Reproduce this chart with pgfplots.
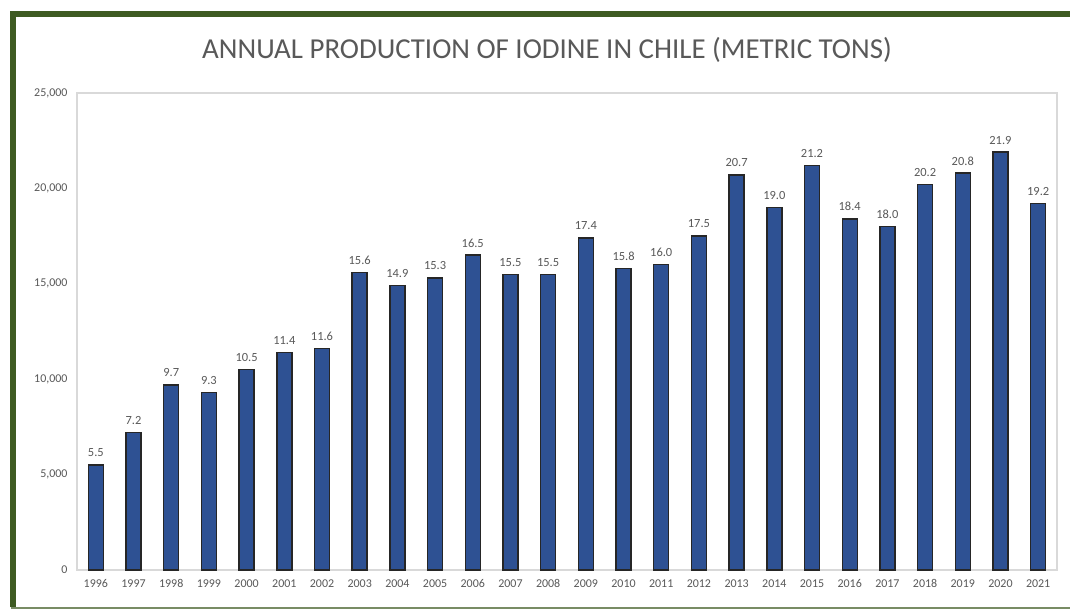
\documentclass[border=0pt]{standalone}
\usepackage{fontspec}
\setmainfont{Carlito}
\usepackage{pgfplots}
\pgfplotsset{compat=1.18}
\definecolor{barblue}{HTML}{2E5193}
\definecolor{framegreen}{HTML}{3E5B22}
\definecolor{txtgray}{HTML}{595959}
\definecolor{boxgray}{HTML}{D9D9D9}

\begin{document}
\begin{tikzpicture}
\path[use as bounding box, fill=white] (-77bp,-40bp) rectangle (993bp,570bp);
\begin{axis}[
    at={(0,0)}, anchor=south west,
    scale only axis,
    width=980bp, height=477bp,
    xmin=-0.5, xmax=25.5,
    ymin=0, ymax=25000,
    ytick={0,5000,10000,15000,20000,25000},
    xtick={0,...,25},
    xticklabels={1996,1997,1998,1999,2000,2001,2002,2003,2004,2005,2006,2007,2008,2009,2010,2011,2012,2013,2014,2015,2016,2017,2018,2019,2020,2021},
    major tick length=0pt,
    axis line style={boxgray, line width=1.2bp},
    tick label style={font=\fontsize{12}{14}\selectfont, text=txtgray},
    /pgf/number format/assume math mode=true,
    /pgf/number format/1000 sep={,},
    scaled y ticks=false,
    yticklabel style={xshift=-6bp},
    xticklabel style={yshift=-6bp},
    ybar, bar width=15bp,
    point meta=explicit symbolic,
    nodes near coords,
    nodes near coords style={font=\fontsize{12.5}{14}\selectfont, text=txtgray, yshift=4bp},
]
\addplot[fill=barblue, draw=black!85, line width=1.4bp] coordinates {
    (0,5500) [5.5]
    (1,7200) [7.2]
    (2,9700) [9.7]
    (3,9300) [9.3]
    (4,10500) [10.5]
    (5,11400) [11.4]
    (6,11600) [11.6]
    (7,15600) [15.6]
    (8,14900) [14.9]
    (9,15300) [15.3]
    (10,16500) [16.5]
    (11,15500) [15.5]
    (12,15500) [15.5]
    (13,17400) [17.4]
    (14,15800) [15.8]
    (15,16000) [16.0]
    (16,17500) [17.5]
    (17,20700) [20.7]
    (18,19000) [19.0]
    (19,21200) [21.2]
    (20,18400) [18.4]
    (21,18000) [18.0]
    (22,20200) [20.2]
    (23,20800) [20.8]
    (24,21900) [21.9]
    (25,19200) [19.2]
};
\end{axis}
% frame
\draw[framegreen, line width=6bp] (-63.5bp,-37bp) -- (-63.5bp,555.5bp) -- (1000bp,555.5bp);
\draw[framegreen!70, line width=2bp] (-66bp,-38bp) -- (1000bp,-38bp);
% title
\node[text=txtgray, font=\fontsize{29}{33}\selectfont] at (470bp,520bp) {ANNUAL PRODUCTION OF IODINE IN CHILE (METRIC TONS)};
\end{tikzpicture}
\end{document}
